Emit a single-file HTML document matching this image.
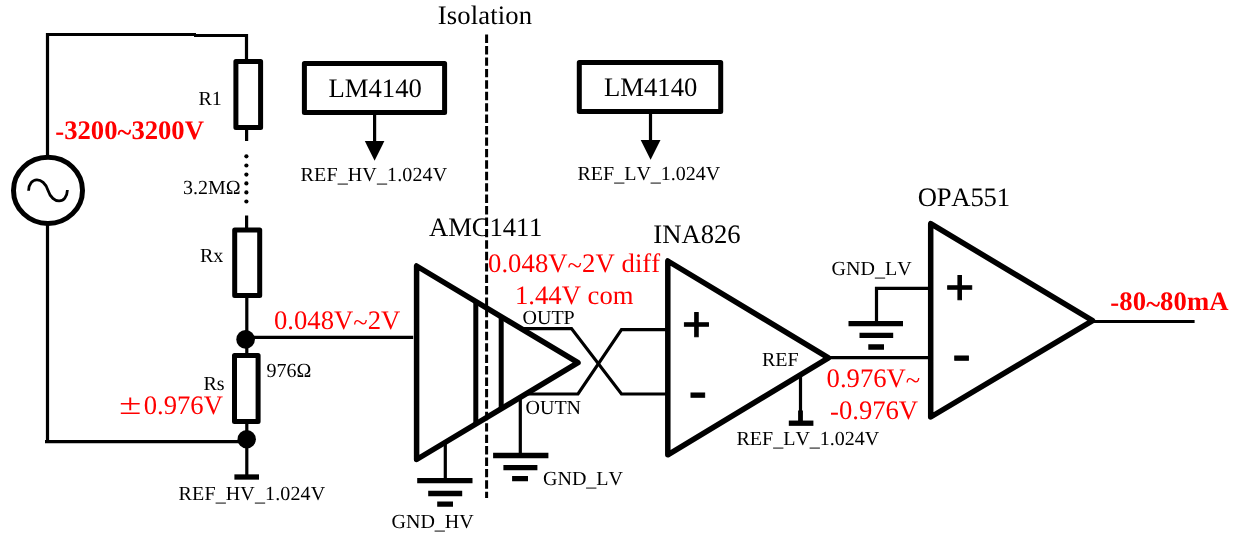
<!DOCTYPE html>
<html>
<head>
<meta charset="utf-8">
<title>Isolation amplifier signal chain</title>
<style>
html,body{margin:0;padding:0;background:#fff;}
body{width:1233px;height:541px;overflow:hidden;position:relative;}
svg{position:absolute;left:0;top:0;display:block;will-change:transform;}
text{font-family:"Liberation Serif","Noto Serif CJK SC",serif;fill:#000;font-kerning:none;font-variant-ligatures:none;text-rendering:geometricPrecision;}
.big{font-size:26.67px;}
.sm{font-size:20px;}
.red{fill:#ff0000;}
.b{font-weight:bold;}
.sg{font-family:"Liberation Sans",sans-serif;stroke:#000;stroke-width:1;}
.w{stroke:#000;stroke-width:3.2;fill:none;}
.k{stroke:#000;stroke-width:5.5;fill:none;stroke-linejoin:round;stroke-linecap:round;}
.g{stroke:#000;stroke-width:5.3;fill:none;}
</style>
</head>
<body>
<svg width="1233" height="541" viewBox="0 0 1233 541">
<rect width="1233" height="541" fill="#fff"/>

<!-- left loop -->
<g id="loop">
<path class="w" d="M47.5 156V34.5H196"/>
<path class="w" d="M194 35.5H246.5V60"/>
<path class="w" d="M47.5 225V441.6"/>
<path class="w" d="M45 441.6H246"/>
<ellipse cx="48" cy="190.4" rx="34.5" ry="33.1" stroke="#000" stroke-width="5" fill="none"/>
<path d="M28.6 190.8C29 176.6 43.5 176 48 190.4C52.5 204.8 67 204.2 67.4 190" stroke="#000" stroke-width="2.8" fill="none"/>
</g>

<!-- resistor chain -->
<g id="res">
<rect class="k" x="235.9" y="61.6" width="24.7" height="65.9" style="stroke-width:5"/>
<path class="w" d="M246.6 130V141"/>
<g fill="#000"><circle cx="246.4" cy="156.3" r="2.1"/><circle cx="246.4" cy="165.5" r="2.1"/><circle cx="246.4" cy="174.6" r="2.1"/><circle cx="246.4" cy="183.4" r="2.1"/><circle cx="246.4" cy="192.4" r="2.1"/><circle cx="246.4" cy="201.5" r="2.1"/></g>
<path class="w" d="M246.6 215.5V228"/>
<rect class="k" x="234.7" y="229.9" width="25" height="65.6" style="stroke-width:5"/>
<path class="w" d="M246.8 298V340"/>
<circle cx="245.6" cy="339.4" r="9.3" fill="#000"/>
<path class="w" d="M246 337.4H413.2"/>
<path class="w" d="M246.8 340V356"/>
<rect class="k" x="234.5" y="355.6" width="23.6" height="65.8" style="stroke-width:5"/>
<path class="w" d="M246.8 423V475"/>
<circle cx="246.7" cy="439.2" r="9.2" fill="#000"/>
<path class="g" d="M234.4 477H259"/>
</g>

<!-- LM4140 boxes -->
<g id="refs">
<rect class="k" x="304.4" y="63.4" width="140.2" height="49.1" style="stroke-width:5"/>
<path class="w" d="M374.6 114V143"/>
<path d="M364.8 141H384.4L374.6 160.8Z" fill="#000"/>
<rect class="k" x="579.3" y="62.4" width="141.4" height="49.1" style="stroke-width:5"/>
<path class="w" d="M650.5 113V142"/>
<path d="M640.7 140.1H660.5L650.6 159.7Z" fill="#000"/>
</g>

<!-- isolation barrier -->
<path d="M486.6 34.6V498" stroke="#000" stroke-width="3" stroke-dasharray="8.4 3.03" fill="none"/>

<!-- AMG1411 -->
<g id="amg">
<path class="k" d="M416.6 266V459.5L578 362.7Z"/>
<path class="k" d="M475.8 302V423" style="stroke-width:5;stroke-linecap:butt"/>
<path class="k" d="M501.2 317V408" style="stroke-width:5;stroke-linecap:butt"/>
<path class="w" d="M445.3 442V480"/>
<path class="g" d="M417.2 480.6H472.5M428.2 493.5H462.2M437.2 504.2H453"/>
<path class="w" d="M524 328.6H571.5L621.5 394H668"/>
<path class="w" d="M527 394H578L621.5 329.6H668"/>
<path class="w" d="M520.3 397V455"/>
<path class="g" d="M493.1 455.5H548.4M503.4 467.7H537.4M512.1 478.6H528"/>
</g>

<!-- INA826 -->
<g id="ina">
<path class="k" d="M667.8 261V454.8L828.5 357.8Z"/>
<path class="w" d="M828 357.6H931"/>
<path class="w" d="M800.5 375V421"/>
<path class="g" d="M800.5 410.5V422" style="stroke-width:4.8"/>
<path class="g" d="M788.8 423.2H813.4"/>
</g>

<!-- OPA551 -->
<g id="opa">
<path class="k" d="M930.7 223.7V417L1092.6 320.6Z"/>
<path class="w" d="M1092 321.5H1194.6" style="stroke-width:3.2"/>
<path class="w" d="M931 288.3H876.5V324"/>
<path class="g" d="M848.5 323.7H903M859.5 335.4H893.2M868.3 347H884"/>
</g>

<!-- labels -->
<g id="labels">
<text class="big" x="437.8" y="24.2" letter-spacing="0.12">Isolation</text>
<text class="big" x="328.5" y="97">LM4140</text>
<text class="big" x="604" y="96.3">LM4140</text>
<text class="sm" x="300.6" y="180.6" letter-spacing="0.12">REF<tspan dy="1.2">_</tspan><tspan dy="-1.2">HV</tspan><tspan dy="1.2">_</tspan><tspan dy="-1.2">1.024V</tspan></text>
<text class="sm" x="577.5" y="180">REF<tspan dy="1.2">_</tspan><tspan dy="-1.2">LV</tspan><tspan dy="1.2">_</tspan><tspan dy="-1.2">1.024V</tspan></text>
<text class="big red b" x="55.3" y="138.7"><tspan dy="1.5">-</tspan><tspan dy="-1.5">3200</tspan><tspan dy="2.5">~</tspan><tspan dy="-2.5">3200V</tspan></text>
<text class="sm" x="198.5" y="104.9">R1</text>
<text class="sm" x="183" y="194.1">3.2MΩ</text>
<text class="sm" x="200" y="262">Rx</text>
<text class="sm" x="203.5" y="390">Rs</text>
<text class="sm" x="266.5" y="376.7">976Ω</text>
<text class="red" x="0" y="0" font-size="26.67" style="font-family:IPAGothic,'Noto Sans CJK JP','Liberation Serif',sans-serif" transform="translate(116.6 414.6) scale(1.03 0.87)">±</text><text class="big red" x="143.7" y="414">0.976V</text>
<text class="big red" x="274" y="328.9">0.048V<tspan dy="2">~</tspan><tspan dy="-2">2V</tspan></text>
<text class="sm" x="178.6" y="500" letter-spacing="0.12">REF<tspan dy="1.2">_</tspan><tspan dy="-1.2">HV</tspan><tspan dy="1.2">_</tspan><tspan dy="-1.2">1.024V</tspan></text>
<text class="big" x="429" y="236.4" letter-spacing="-0.1">AMC1411</text>
<text class="big red" x="488" y="271.9" letter-spacing="0.06">0.048V<tspan dy="2">~</tspan><tspan dy="-2">2V diff</tspan></text>
<text class="big red" x="515" y="303.9">1.44V com</text>
<text class="sm" x="522.5" y="323.7">OUTP</text>
<text class="sm" x="525.5" y="413.7">OUTN</text>
<text class="sm" x="391.5" y="528">GND<tspan dy="1.2">_</tspan><tspan dy="-1.2">HV</tspan></text>
<text class="sm" x="543" y="485.2">GND<tspan dy="1.2">_</tspan><tspan dy="-1.2">LV</tspan></text>
<text class="big" x="653.3" y="243.2">INA826</text>
<text class="sg" x="696.4" y="341" font-size="49.5" text-anchor="middle">+</text>
<text class="sg" x="697.9" y="410" font-size="56" text-anchor="middle">-</text>
<text class="sm" x="762" y="365.9">REF</text>
<text class="sm" x="736.5" y="444.7">REF<tspan dy="1.2">_</tspan><tspan dy="-1.2">LV</tspan><tspan dy="1.2">_</tspan><tspan dy="-1.2">1.024V</tspan></text>
<text class="big red" x="826.6" y="387">0.976V<tspan dy="2">~</tspan></text>
<text class="big red" x="830" y="419.3"><tspan dy="0.6">-</tspan><tspan dy="-0.6">0.976V</tspan></text>
<text class="sm" x="831.6" y="275">GND<tspan dy="1.2">_</tspan><tspan dy="-1.2">LV</tspan></text>
<text class="big" x="917.7" y="205.9" letter-spacing="-0.2">OPA551</text>
<text class="sg" x="959.8" y="304" font-size="49.5" text-anchor="middle">+</text>
<text class="sg" x="961.5" y="373" font-size="56" text-anchor="middle">-</text>
<text class="big red b" x="1110.3" y="310" letter-spacing="0.1"><tspan dy="1">-</tspan><tspan dy="-1">80</tspan><tspan dy="2.5">~</tspan><tspan dy="-2.5">80mA</tspan></text>
</g>
</svg>
</body>
</html>
